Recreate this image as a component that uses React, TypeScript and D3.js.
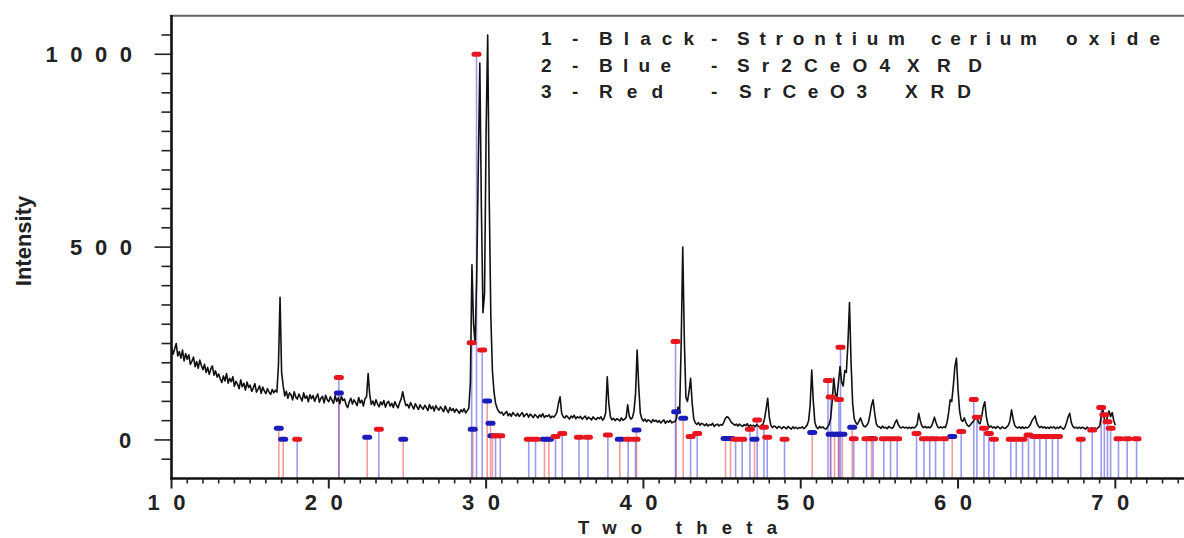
import React from "react";
import * as d3 from "d3";

// Black curve: measured intensity, 2θ = 10.0 … 70.0 step 0.1
const X_START = 10.0;
const X_STEP = 0.1;
const intensity: number[] = [
  241, 222, 236, 250, 218, 229, 212, 233, 205, 224,
  209, 221, 196, 204, 215, 190, 203, 186, 207, 193,
  182, 196, 175, 188, 170, 184, 192, 168, 179, 163,
  171, 158, 149, 166, 153, 172, 147, 160, 151, 164,
  139, 152, 144, 133, 156, 138, 147, 129, 150, 136,
  142, 126, 135, 146, 124, 131, 140, 121, 137, 127,
  120, 133, 124, 118, 131, 122, 129, 124, 195, 370,
  175, 140, 114, 126, 108, 122, 117, 104, 125, 111,
  106, 119, 110, 101, 122, 108, 114, 99, 117, 107,
  115, 100, 111, 119, 98, 108, 113, 96, 116, 104,
  99, 112, 103, 95, 115, 100, 109, 94, 113, 102,
  106, 91, 84, 99, 108, 93, 104, 97, 89, 110,
  96, 103, 88, 107, 112, 172, 118, 92, 101, 89,
  104, 93, 86, 99, 91, 102, 85, 96, 100, 88,
  95, 84, 99, 90, 83, 96, 106, 125, 104, 89,
  92, 83, 97, 88, 80, 94, 86, 79, 91, 84,
  80, 90, 84, 76, 92, 81, 87, 75, 89, 82,
  77, 86, 80, 73, 88, 78, 71, 84, 76, 81,
  72, 80, 75, 69, 78, 73, 81, 70, 76, 82,
  150, 454, 300, 250, 420, 700, 977, 600, 330, 380,
  800, 1050, 620, 320, 180, 125, 95, 82, 74, 70,
  72, 64, 69, 74, 63, 68, 61, 71, 66, 62,
  69, 61, 66, 71, 60, 65, 68, 59, 67, 63,
  58, 66, 62, 57, 65, 60, 68, 58, 63, 61,
  65, 57, 62, 59, 64, 72, 95, 112, 70, 60,
  57, 63, 59, 54, 62, 58, 64, 55, 60, 57,
  61, 54, 58, 62, 53, 59, 56, 52, 60, 55,
  53, 58, 55, 60, 51, 56, 70, 164, 95, 60,
  52, 56, 50, 55, 53, 49, 57, 51, 54, 58,
  91, 62, 54, 58, 75, 120, 233, 140, 70, 55,
  49, 54, 47, 52, 50, 45, 53, 48, 51, 46,
  50, 44, 48, 52, 43, 49, 46, 51, 44, 47,
  47, 55, 85, 70, 250, 500, 260, 110, 100, 125,
  160, 95, 55, 44, 40, 45, 38, 43, 41, 37,
  42, 36, 40, 38, 43, 35, 39, 41, 36, 40,
  38, 45, 55, 60, 58, 52, 45, 42, 38, 41,
  36, 41, 38, 35, 40, 37, 42, 34, 39, 36,
  38, 34, 40, 36, 33, 38, 40, 55, 80, 108,
  60, 38, 32, 36, 34, 30, 35, 33, 29, 34,
  32, 29, 35, 31, 28, 34, 30, 33, 29, 32,
  31, 34, 29, 33, 38, 50, 90, 181, 100, 45,
  33, 29, 35, 31, 34, 30, 28, 33, 40, 55,
  100, 160, 120, 110, 150, 190, 150, 140, 180, 175,
  250, 356, 200, 95, 55, 45, 40, 48, 57, 45,
  36, 34, 38, 45, 65, 90, 104, 70, 42, 35,
  34, 30, 36, 31, 33, 29, 35, 32, 30, 34,
  45, 52, 40, 33, 31, 34, 31, 33, 30, 33,
  30, 33, 31, 34, 40, 69, 50, 36, 32, 35,
  31, 34, 31, 35, 45, 59, 45, 34, 31, 34,
  31, 34, 32, 45, 70, 104, 100, 140, 190, 212,
  130, 75, 52, 48, 57, 45, 38, 35, 40, 45,
  50, 58, 60, 45, 42, 60, 85, 99, 60, 40,
  33, 36, 31, 34, 30, 35, 32, 29, 34, 31,
  30, 34, 38, 50, 78, 55, 38, 33, 31, 34,
  30, 34, 30, 33, 31, 34, 40, 50, 56, 62,
  45, 36, 32, 35, 31, 34, 30, 33, 30, 34,
  31, 34, 29, 33, 30, 35, 31, 28, 33, 45,
  60, 69, 45, 35, 31, 33, 30, 33, 30, 33,
  31, 28, 33, 30, 27, 32, 29, 31, 28, 32,
  35, 60, 80, 55, 45, 60, 75, 60, 71, 50,
  38,
];

// Blue: Sr2CeO4 reference pattern
const sr2ceo4Pos = [16.82, 17.10, 20.64, 22.44, 24.73, 29.15, 30.07, 30.28, 30.40, 33.71, 33.99, 38.50, 39.56, 42.08, 42.53, 45.22, 45.54, 47.06, 50.73, 51.90, 52.15, 52.40, 52.65, 53.27, 54.50, 59.63];
const sr2ceo4Int = [30, 2, 122, 7, 2, 28, 101, 43, 11, 2, 2, 2, 26, 73, 56, 4, 4, 2, 19, 15, 15, 15, 15, 33, 4, 9];

// Red: SrCeO3 reference pattern
const srceo3Pos = [17.99, 20.64, 23.18, 29.08, 29.39, 29.75, 30.60, 30.90, 32.71, 33.14, 34.41, 34.84, 35.90, 36.47, 37.74, 39.03, 39.50, 42.04, 43.00, 43.42, 45.86, 46.28, 46.77, 47.23, 47.66, 47.87, 48.97, 51.73, 51.90, 52.43, 52.53, 53.37, 54.18, 54.60, 55.28, 55.71, 56.13, 57.36, 57.83, 58.20, 58.57, 59.10, 60.20, 61.00, 61.20, 61.65, 61.96, 62.28, 63.35, 63.70, 64.10, 64.48, 64.85, 65.20, 65.60, 66.00, 66.35, 67.80, 68.53, 69.10, 69.30, 69.50, 69.70, 70.20, 70.75, 71.35];
const srceo3Int = [2, 162, 28, 252, 1000, 233, 11, 11, 2, 2, 9, 17, 7, 7, 13, 2, 2, 255, 9, 17, 2, 2, 28, 52, 33, 7, 2, 154, 111, 105, 240, 3, 3, 3, 3, 3, 3, 17, 3, 3, 3, 3, 22, 105, 59, 30, 17, 2, 2, 2, 2, 13, 9, 9, 9, 9, 9, 2, 26, 84, 65, 47, 30, 3, 3, 3];

const xTickLabels = [10, 20, 30, 40, 50, 60, 70];
const yTickLabels = [0, 500, 1000];

const legendNums = ["1", "2", "3"];
const legendColors = ["Black", "Blue", "Red"];
const legendNames = [["Strontium", "cerium", "oxide"], ["Sr2CeO4", "XRD"], ["SrCeO3", "XRD"]];

const FONT = "'Liberation Sans', Arial, Helvetica, sans-serif";

export default function App() {
  const W = 1184;
  const H = 538;
  const x = d3.scaleLinear().domain([10, 75]).range([171.5, 1194]);
  const y = d3.scaleLinear().domain([-100, 1100]).range([478.5, 15.7]);
  const yBottom = y(-100);

  const curve = d3
    .line<number>()
    .x((_, i) => x(X_START + i * X_STEP))
    .y((d) => y(d))(intensity) as string;

  const xMinor = d3.range(10, 75, 1);
  const yMinor = d3.range(-50, 1100, 50);

  const blueSticks = sr2ceo4Pos.map((p, i) => ({ p, v: sr2ceo4Int[i] }));
  const redSticks = srceo3Pos.map((p, i) => ({ p, v: srceo3Int[i] }));

  const legendY = [45, 72, 98];
  const colorSpan = [[599, 95], [599, 72], [599, 64]];
  const nameSpans = [
    [[737, 168], [931, 106], [1066, 94]],
    [[737, 153], [907, 75]],
    [[739, 128], [905, 66]],
  ];

  return (
    <svg width={W} height={H} style={{ position: "absolute", left: 0, top: 0 }} fontFamily={FONT}>
      <rect width={W} height={H} fill="#ffffff" />

      {/* stick lines (blue-capped sticks drawn red, red-capped sticks drawn blue) */}
      {blueSticks.map((s, i) => (
        <line key={"bl" + i} x1={x(s.p)} x2={x(s.p)} y1={yBottom} y2={y(s.v)} stroke="#f05a5a" strokeOpacity={0.6} strokeWidth={1.6} />
      ))}
      {redSticks.map((s, i) => (
        <line key={"rl" + i} x1={x(s.p)} x2={x(s.p)} y1={yBottom} y2={y(s.v)} stroke="#4848e0" strokeOpacity={0.55} strokeWidth={1.6} />
      ))}

      {/* measured curve */}
      <path d={curve} fill="none" stroke="#111" strokeWidth={1.6} strokeLinejoin="round" />

      {/* caps */}
      {blueSticks.map((s, i) => (
        <rect key={"bc" + i} x={x(s.p) - 5} y={y(s.v) - 2.5} width={10} height={5} rx={2.5} fill="#1c1cb8" />
      ))}
      {redSticks.map((s, i) => (
        <rect key={"rc" + i} x={x(s.p) - 5} y={y(s.v) - 2.5} width={10} height={5} rx={2.5} fill="#e8141e" />
      ))}

      {/* frame */}
      <line x1={170} x2={W} y1={15.7} y2={15.7} stroke="#666" strokeWidth={2} />
      <line x1={171.5} x2={171.5} y1={15} y2={yBottom + 1.5} stroke="#111" strokeWidth={2.6} />
      <line x1={170} x2={W} y1={yBottom} y2={yBottom} stroke="#111" strokeWidth={2.6} />

      {/* y ticks */}
      {yMinor.map((v) => {
        const major = v % 500 === 0;
        return <line key={"yt" + v} x1={171.5 - (major ? 17 : 10)} x2={171.5} y1={y(v)} y2={y(v)} stroke="#222" strokeWidth={1.6} />;
      })}
      {/* x ticks */}
      {xMinor.map((v) => {
        const major = v % 10 === 0;
        return <line key={"xt" + v} x1={x(v)} x2={x(v)} y1={yBottom} y2={yBottom + (major ? 10 : 5)} stroke="#222" strokeWidth={major ? 2 : 1.6} />;
      })}

      {/* y tick labels */}
      {yTickLabels.map((v) => {
        const s = String(v);
        const len = s.length > 1 ? 24.5 * (s.length - 1) + 13 : undefined;
        const x0 = 132 - (len ?? 13);
        return (
          <text key={"yl" + v} x={x0} y={y(v) + 8} fontSize={22} fontWeight="bold" fill="#222"
            textLength={len} lengthAdjust={len ? "spacing" : undefined}>{s}</text>
        );
      })}
      {/* x tick labels */}
      {xTickLabels.map((v) => (
        <text key={"xl" + v} x={x(v) - 24} y={510} fontSize={22} fontWeight="bold" fill="#222" textLength={38} lengthAdjust="spacing">{String(v)}</text>
      ))}

      {/* axis titles */}
      <text x={578} y={533.5} fontSize={18.5} fontWeight="bold" fill="#222" textLength={199} lengthAdjust="spacing">Two theta</text>
      <text transform="translate(31,241) rotate(-90)" textAnchor="middle" fontSize={22} fontWeight="bold" fill="#222">Intensity</text>

      {/* legend */}
      {legendNums.map((n, i) => (
        <g key={"lg" + i} fontSize={19} fontWeight="bold" fill="#222">
          <text x={541} y={legendY[i]}>{n}</text>
          <text x={572} y={legendY[i]}>-</text>
          <text x={colorSpan[i][0]} y={legendY[i]} textLength={colorSpan[i][1]} lengthAdjust="spacing">{legendColors[i]}</text>
          <text x={711} y={legendY[i]}>-</text>
          {legendNames[i].map((w, j) => (
            <text key={j} x={nameSpans[i][j][0]} y={legendY[i]} textLength={nameSpans[i][j][1]} lengthAdjust="spacing">{w}</text>
          ))}
        </g>
      ))}
    </svg>
  );
}
